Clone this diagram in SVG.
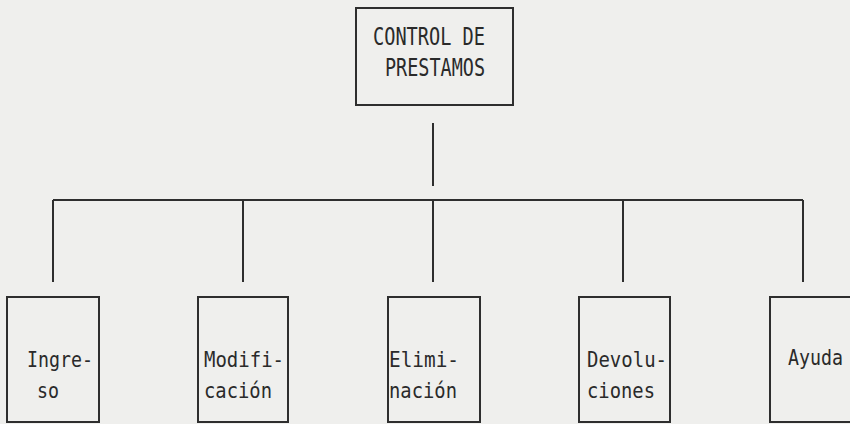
<svg xmlns="http://www.w3.org/2000/svg" width="850" height="424" viewBox="0 0 850 424">
  <style>
    .box { fill: none; stroke: #2e2e2e; stroke-width: 2; }
    .conn { fill: none; stroke: #2e2e2e; stroke-width: 2; }
    .t { font-family: "DejaVu Sans Mono", "Liberation Mono", monospace; fill: #2a2a2a; }
    .top { font-size: 24px; }
    .lbl { font-size: 20.5px; }
  </style>
  <rect x="0" y="0" width="850" height="424" fill="#efefed"/>
  <g id="connectors">
    <line class="conn" x1="433" y1="123" x2="433" y2="186"/>
    <line class="conn" x1="53" y1="200" x2="803" y2="200"/>
    <line class="conn" x1="53" y1="200" x2="53" y2="282"/>
    <line class="conn" x1="243" y1="200" x2="243" y2="282"/>
    <line class="conn" x1="433" y1="200" x2="433" y2="282"/>
    <line class="conn" x1="623" y1="200" x2="623" y2="282"/>
    <line class="conn" x1="803" y1="200" x2="803" y2="282"/>
  </g>
  <g id="control">
    <rect class="box" x="356" y="8" width="157" height="97"/>
    <text class="t top" x="373" y="45" textLength="112" lengthAdjust="spacingAndGlyphs">CONTROL DE</text>
    <text class="t top" x="385" y="76" textLength="100" lengthAdjust="spacingAndGlyphs">PRESTAMOS</text>
  </g>
  <g id="ingreso">
    <rect class="box" x="7" y="297" width="92" height="125"/>
    <text class="t lbl" x="27" y="367" textLength="66" lengthAdjust="spacingAndGlyphs">Ingre-</text>
    <text class="t lbl" x="37" y="398" textLength="22" lengthAdjust="spacingAndGlyphs">so</text>
  </g>
  <g id="modificacion">
    <rect class="box" x="198" y="297" width="90" height="125"/>
    <text class="t lbl" x="204" y="367" textLength="80" lengthAdjust="spacingAndGlyphs">Modifi-</text>
    <text class="t lbl" x="204" y="398" textLength="68" lengthAdjust="spacingAndGlyphs">cación</text>
  </g>
  <g id="eliminacion">
    <rect class="box" x="388" y="297" width="92" height="125"/>
    <text class="t lbl" x="389" y="367" textLength="70" lengthAdjust="spacingAndGlyphs">Elimi-</text>
    <text class="t lbl" x="389" y="398" textLength="68" lengthAdjust="spacingAndGlyphs">nación</text>
  </g>
  <g id="devoluciones">
    <rect class="box" x="579" y="297" width="91" height="125"/>
    <text class="t lbl" x="587" y="367" textLength="80" lengthAdjust="spacingAndGlyphs">Devolu-</text>
    <text class="t lbl" x="587" y="398" textLength="68" lengthAdjust="spacingAndGlyphs">ciones</text>
  </g>
  <g id="ayuda">
    <rect class="box" x="770" y="297" width="100" height="125"/>
    <text class="t lbl" x="788" y="365" textLength="55" lengthAdjust="spacingAndGlyphs">Ayuda</text>
  </g>
</svg>
